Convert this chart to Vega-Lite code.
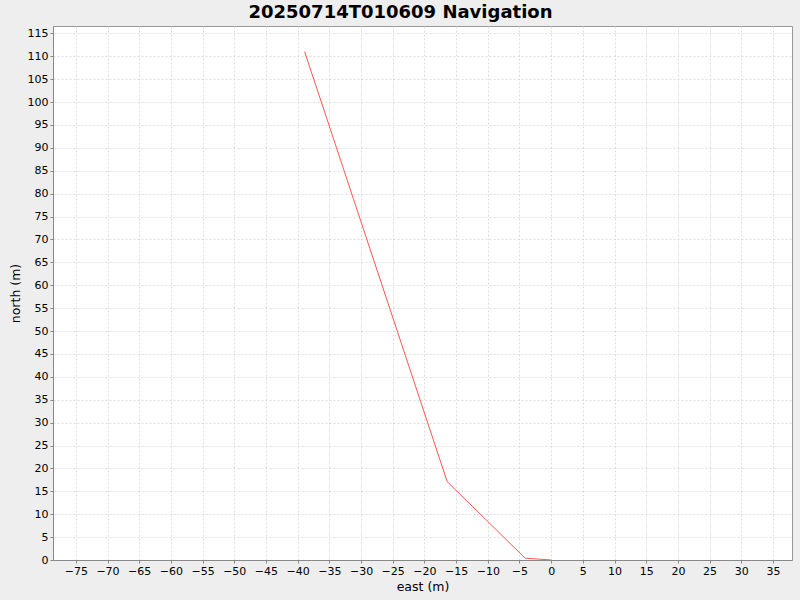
{
  "$schema": "https://vega.github.io/schema/vega-lite/v6.json",
  "autosize": "none",
  "width": 739,
  "height": 534,
  "padding": {"left": 53, "top": 26, "right": 8, "bottom": 40},
  "background": "#eeeeee",
  "title": {
    "text": "20250714T010609 Navigation",
    "font": "DejaVu Sans",
    "fontSize": 18,
    "fontWeight": "bold",
    "color": "#000000",
    "anchor": "middle",
    "dx": -22,
    "offset": 4
  },
  "data": {
    "values": [
      {"seq": 0, "east": 0.0, "north": 0.0},
      {"seq": 1, "east": -4.1, "north": 0.4},
      {"seq": 2, "east": -16.4, "north": 17.1},
      {"seq": 3, "east": -38.9, "north": 111.0}
    ]
  },
  "mark": {"type": "line", "color": "#ff5555", "strokeWidth": 1, "clip": true},
  "encoding": {
    "x": {
      "field": "east",
      "type": "quantitative",
      "title": "east (m)",
      "scale": {"domain": [-78.6, 38.0], "nice": false, "zero": false},
      "axis": {
        "values": [-75, -70, -65, -60, -55, -50, -45, -40, -35, -30, -25, -20, -15, -10, -5, 0, 5, 10, 15, 20, 25, 30, 35]
      }
    },
    "y": {
      "field": "north",
      "type": "quantitative",
      "title": "north (m)",
      "scale": {"domain": [0, 116.6], "nice": false, "zero": false},
      "axis": {
        "values": [0, 5, 10, 15, 20, 25, 30, 35, 40, 45, 50, 55, 60, 65, 70, 75, 80, 85, 90, 95, 100, 105, 110, 115]
      }
    },
    "order": {"field": "seq", "type": "quantitative"}
  },
  "config": {
    "view": {"fill": "#ffffff", "stroke": "#999999", "strokeWidth": 1},
    "axis": {
      "grid": true,
      "gridColor": "#dddddd",
      "gridDash": [2, 2],
      "gridWidth": 1,
      "domainColor": "#888888",
      "domainWidth": 1,
      "tickColor": "#888888",
      "tickSize": 3,
      "labelFont": "DejaVu Sans",
      "labelFontSize": 11,
      "labelColor": "#000000",
      "labelPadding": 2,
      "labelOverlap": false,
      "titleFont": "DejaVu Sans",
      "titleFontSize": 12.5,
      "titleFontWeight": "normal",
      "titleColor": "#000000"
    },
    "axisX": {"titlePadding": 4},
    "axisY": {"titlePadding": 5}
  }
}
